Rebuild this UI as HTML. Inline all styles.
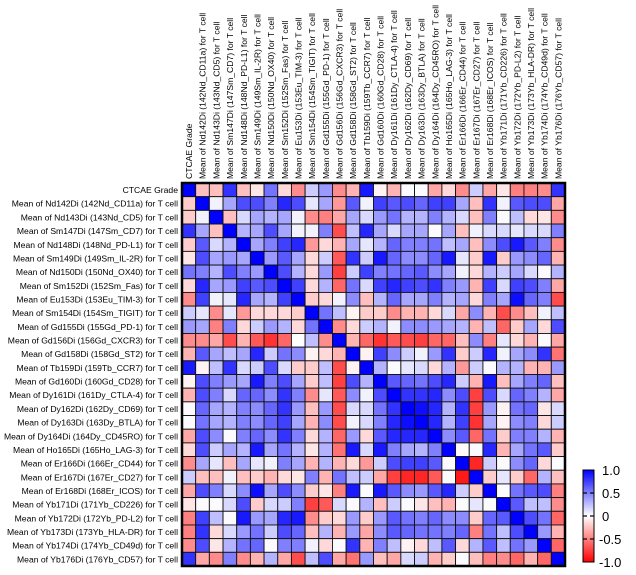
<!DOCTYPE html>
<html><head><meta charset="utf-8">
<style>
html,body{margin:0;padding:0;background:#fff;}
svg{display:block;font-family:"Liberation Sans",Arial,sans-serif;}
</style></head>
<body>
<svg id="chart" width="636" height="575" viewBox="0 0 636 575">
  <defs>
    <linearGradient id="cbgrad" x1="0" y1="0" x2="0" y2="1">
      <stop offset="0" stop-color="#0000ff"/>
      <stop offset="0.5" stop-color="#ffffff"/>
      <stop offset="1" stop-color="#ff0000"/>
    </linearGradient>
  </defs>
  <g id="cells"></g>
  <g id="rowlabels"></g>
  <g id="collabels"></g>
  <rect x="182" y="183" width="383" height="383" fill="none" stroke="#000" stroke-width="2.5"/>
  <g>
    <rect x="583" y="470" width="11" height="92" fill="url(#cbgrad)" stroke="#000" stroke-width="1"/>
    <g id="cbticks"></g>
  </g>
</svg>
<script>
const categories = ["CTCAE Grade","Mean of Nd142Di (142Nd_CD11a) for T cell","Mean of Nd143Di (143Nd_CD5) for T cell","Mean of Sm147Di (147Sm_CD7) for T cell","Mean of Nd148Di (148Nd_PD-L1) for T cell","Mean of Sm149Di (149Sm_IL-2R) for T cell","Mean of Nd150Di (150Nd_OX40) for T cell","Mean of Sm152Di (152Sm_Fas) for T cell","Mean of Eu153Di (153Eu_TIM-3) for T cell","Mean of Sm154Di (154Sm_TIGIT) for T cell","Mean of Gd155Di (155Gd_PD-1) for T cell","Mean of Gd156Di (156Gd_CXCR3) for T cell","Mean of Gd158Di (158Gd_ST2) for T cell","Mean of Tb159Di (159Tb_CCR7) for T cell","Mean of Gd160Di (160Gd_CD28) for T cell","Mean of Dy161Di (161Dy_CTLA-4) for T cell","Mean of Dy162Di (162Dy_CD69) for T cell","Mean of Dy163Di (163Dy_BTLA) for T cell","Mean of Dy164Di (164Dy_CD45RO) for T cell","Mean of Ho165Di (165Ho_LAG-3) for T cell","Mean of Er166Di (166Er_CD44) for T cell","Mean of Er167Di (167Er_CD27) for T cell","Mean of Er168Di (168Er_ICOS) for T cell","Mean of Yb171Di (171Yb_CD226) for T cell","Mean of Yb172Di (172Yb_PD-L2) for T cell","Mean of Yb173Di (173Yb_HLA-DR) for T cell","Mean of Yb174Di (174Yb_CD49d) for T cell","Mean of Yb176Di (176Yb_CD57) for T cell"];
const rowLabels = categories;
const colLabels = categories;
const r0 = [1,-0.25,-0.25,0.8,-0.25,-0.1,0.55,-0.15,-0.45,0.2,0.4,-0.45,-0.3,0.9,-0.05,-0.3,0.02,0.02,-0.35,-0.15,-0.45,0.2,-0.35,-0.1,-0.5,-0.5,-0.45,0.8];
const r1 = [-0.2,1,0.05,0.35,0.7,0.7,0.5,0.85,0.7,0.1,0.35,-0.4,0.65,0.05,0.75,0.65,0.7,0.6,0.75,0.75,0.35,-0.25,0.8,0.05,0.65,0.7,0.7,-0.35];
const r2 = [-0.2,0.05,1,-0.25,0.15,0.35,0.3,0.35,0.05,-0.45,-0.5,-0.35,0.35,0.15,0.4,0.55,0.3,0.3,0.5,0.3,0.15,-0.25,0.5,0.02,0.25,-0.15,-0.1,-0.45];
const r3 = [0.8,0.35,-0.25,1,0.3,0.35,0.7,0.35,0.05,0.05,0.5,-0.7,0.25,0.85,0.35,0.15,0.35,0.35,0.02,0.35,-0.25,0.05,0.15,0.15,0.1,0.15,0.15,0.5];
const r4 = [-0.2,0.65,0.15,0.3,1,0.35,0.5,0.75,0.85,-0.4,-0.15,-0.3,0.35,0.1,0.3,0.6,0.5,0.5,0.55,0.25,0.35,-0.25,0.45,0.7,0.9,0.65,0.5,-0.45];
const r5 = [-0.1,0.7,0.35,0.4,0.35,1,0.4,0.65,0.35,-0.15,0.2,-0.65,0.8,0.2,0.9,0.6,0.45,0.45,0.6,0.9,0.1,-0.2,0.9,-0.2,0.4,0.45,0.6,-0.3];
const r6 = [0.55,0.5,0.3,0.7,0.5,0.4,1,0.7,0.3,-0.15,0.4,-0.75,0.2,0.75,0.5,0.55,0.6,0.65,0.45,0.35,0.05,-0.15,0.3,0.2,0.35,0.15,0.02,0.3];
const r7 = [-0.15,0.85,0.35,0.4,0.75,0.65,0.7,1,0.75,-0.15,0.3,-0.6,0.55,0.15,0.75,0.85,0.75,0.7,0.8,0.5,0.4,-0.3,0.75,0.15,0.75,0.7,0.5,-0.35];
const r8 = [-0.45,0.75,0.05,0.1,0.85,0.35,0.3,0.75,1,-0.2,-0.15,0.05,0.45,-0.25,0.3,0.6,0.35,0.35,0.5,0.3,0.35,-0.15,0.5,0.35,0.95,0.6,0.5,-0.7];
const r9 = [0.2,0.1,-0.45,0.1,-0.4,-0.15,-0.15,-0.15,-0.2,1,0.55,0.25,-0.05,-0.2,-0.2,-0.45,-0.3,-0.3,-0.15,0.15,-0.35,0.45,-0.3,-0.7,-0.45,-0.25,0.05,0.25];
const r10 = [0.4,0.35,-0.5,0.5,-0.15,0.2,0.4,0.3,-0.15,0.55,1,-0.45,-0.15,0.2,0.3,0.05,0.45,0.45,0.4,0.35,0.3,-0.3,0.25,-0.6,-0.2,0.35,-0.15,0.7];
const r11 = [-0.45,-0.45,-0.35,-0.7,-0.3,-0.65,-0.8,-0.6,0.0,0.25,-0.45,1,-0.3,-0.6,-0.8,-0.65,-0.7,-0.75,-0.6,-0.6,-0.25,0.45,-0.5,0.1,-0.15,-0.3,0.02,-0.35];
const r12 = [-0.3,0.65,0.35,0.25,0.35,0.85,0.2,0.55,0.45,-0.05,-0.15,-0.3,1,-0.05,0.75,0.45,0.2,0.05,0.4,0.8,-0.2,0.2,0.85,0.05,0.35,0.45,0.8,-0.55];
const r13 = [0.9,-0.05,0.25,0.8,0.15,0.2,0.7,0.15,-0.2,-0.2,0.25,-0.7,-0.05,1,0.3,0.02,0.1,0.15,-0.15,0.3,-0.4,0.2,0.02,0.3,0.3,-0.3,-0.3,0.4];
const r14 = [-0.05,0.7,0.5,0.4,0.35,0.9,0.5,0.7,0.35,-0.2,0.25,-0.75,0.7,0.3,1,0.65,0.6,0.55,0.7,0.85,0.2,-0.3,0.9,-0.25,0.35,0.5,0.6,-0.25];
const r15 = [-0.3,0.7,0.5,0.15,0.6,0.6,0.45,0.8,0.5,-0.45,0.1,-0.65,0.45,0.05,0.7,1,0.8,0.8,0.85,0.45,0.7,-0.75,0.7,0.15,0.6,0.5,0.3,-0.35];
const r16 = [0.02,0.6,0.35,0.3,0.5,0.45,0.6,0.8,0.4,-0.25,0.4,-0.7,0.15,0.15,0.55,0.8,1,0.95,0.85,0.3,0.8,-0.75,0.4,-0.05,0.55,0.6,-0.1,0.15];
const r17 = [0.02,0.55,0.35,0.3,0.5,0.45,0.6,0.75,0.35,-0.3,0.45,-0.7,0.05,0.15,0.5,0.85,0.95,1,0.85,0.3,0.75,-0.8,0.35,-0.05,0.45,0.5,-0.15,0.2];
const r18 = [-0.35,0.7,0.45,0.02,0.5,0.6,0.45,0.8,0.5,-0.15,0.3,-0.6,0.4,-0.15,0.65,0.85,0.85,0.85,1,0.45,0.65,-0.6,0.55,-0.2,0.5,0.5,0.3,-0.3];
const r19 = [-0.15,0.7,0.2,0.35,0.3,0.9,0.35,0.55,0.3,-0.1,0.3,-0.55,0.9,0.15,0.9,0.5,0.35,0.3,0.5,1,-0.02,0.02,0.85,-0.3,0.35,0.55,0.65,-0.2];
const r20 = [-0.45,0.35,0.1,-0.25,0.35,0.1,0.05,0.5,0.35,-0.3,0.3,-0.3,-0.15,-0.4,0.2,0.7,0.75,0.75,0.65,0.02,1,-0.85,0.2,0.02,0.45,0.6,-0.15,0.02];
const r21 = [0.2,-0.25,-0.25,0.05,-0.25,-0.2,-0.3,-0.15,-0.1,0.5,-0.3,0.55,0.25,0.2,-0.35,-0.75,-0.85,-0.85,-0.65,0.02,-0.9,1,-0.2,0.1,-0.2,-0.6,0.3,-0.25];
const r22 = [-0.35,0.7,0.5,0.15,0.45,0.95,0.35,0.7,0.45,-0.2,-0.1,-0.5,0.9,0.02,0.9,0.65,0.45,0.4,0.65,0.85,0.2,-0.2,1,0.02,0.55,0.65,0.7,-0.5];
const r23 = [-0.1,0.02,0.02,0.15,0.7,-0.2,0.15,0.2,0.5,-0.75,-0.65,0.15,0.02,0.3,-0.25,0.2,0.02,-0.1,-0.25,-0.3,0.02,0.1,0.02,1,0.65,0.25,0.25,-0.45];
const r24 = [-0.5,0.75,0.25,0.02,0.9,0.4,0.35,0.85,0.9,-0.45,-0.2,-0.15,0.4,-0.2,0.4,0.65,0.55,0.5,0.6,0.45,0.45,-0.2,0.6,0.65,1,0.7,0.55,-0.6];
const r25 = [-0.5,0.8,-0.15,0.15,0.4,0.55,0.2,0.7,0.6,-0.25,0.3,-0.3,0.4,-0.35,0.45,0.65,0.6,0.55,0.55,0.5,0.6,-0.5,0.55,0.25,0.7,1,0.4,-0.3];
const r26 = [-0.45,0.7,-0.1,0.3,0.55,0.6,0.02,0.5,0.5,0.05,-0.15,0.02,0.8,-0.3,0.5,0.25,-0.05,-0.15,0.25,0.65,-0.15,0.3,0.65,0.25,0.55,0.4,1,-0.6];
const r27 = [0.8,-0.35,-0.45,0.5,-0.45,-0.3,0.3,-0.35,-0.7,0.25,0.7,-0.35,-0.55,0.4,-0.25,-0.35,0.15,0.2,-0.3,-0.2,0.02,-0.25,-0.5,-0.45,-0.6,-0.3,-0.6,1];
const matrixRows = [r0,r1,r2,r3,r4,r5,r6,r7,r8,r9,r10,r11,r12,r13,r14,r15,r16,r17,r18,r19,r20,r21,r22,r23,r24,r25,r26,r27];
const colorbarTicks = [1.0, 0.5, 0, -0.5, -1.0];
const colorbarTickLabels = ["1.0","0.5","0","-0.5","-1.0"];

const NS = "http://www.w3.org/2000/svg";
const X0 = 182, Y0 = 183, SIZE = 383;
const n = categories.length;
const cw = SIZE / n;
function xPos(i){ return X0 + i * cw; }
function yPos(i){ return Y0 + i * cw; }
function color(v){
  v = Math.max(-1, Math.min(1, v));
  let r,g,b;
  if (v >= 0){ r = Math.round(255*(1-v)); g = r; b = 255; }
  else { const t = -v; r = 255; g = Math.round(255*(1-t)); b = g; }
  return "rgb("+r+","+g+","+b+")";
}
const cellsG = document.getElementById("cells");
matrixRows.forEach((row, i) => {
  row.forEach((v, j) => {
    const rc = document.createElementNS(NS, "rect");
    rc.setAttribute("x", xPos(j));
    rc.setAttribute("y", yPos(i));
    rc.setAttribute("width", cw);
    rc.setAttribute("height", cw);
    rc.setAttribute("fill", color(v));
    rc.setAttribute("stroke", "#111");
    rc.setAttribute("stroke-width", "0.9");
    
    
    cellsG.appendChild(rc);
  });
});
const rowG = document.getElementById("rowlabels");
rowLabels.forEach((t, i) => {
  const tx = document.createElementNS(NS, "text");
  tx.setAttribute("x", 178);
  tx.setAttribute("y", yPos(i) + cw/2 + 3.2);
  tx.setAttribute("text-anchor", "end");
  tx.setAttribute("font-size", "8.6");
  tx.setAttribute("fill", "#000");
  tx.textContent = t;
  
  
  rowG.appendChild(tx);
});
const colG = document.getElementById("collabels");
colLabels.forEach((t, j) => {
  const tx = document.createElementNS(NS, "text");
  const cx = xPos(j) + cw/2 + 3.2;
  const cy = 179;
  tx.setAttribute("x", cx);
  tx.setAttribute("y", cy);
  tx.setAttribute("transform", "rotate(-90 " + cx + " " + cy + ")");
  tx.setAttribute("text-anchor", "start");
  tx.setAttribute("font-size", "8.6");
  tx.setAttribute("fill", "#000");
  tx.textContent = t;
  
  
  colG.appendChild(tx);
});
const cbG = document.getElementById("cbticks");
const CB_TOP = 470, CB_H = 92;
function cbY(v){ return CB_TOP + (1 - v) / 2 * CB_H; }
colorbarTicks.forEach((v, k) => {
  const y = cbY(v);
  if (v < 1 && v > -1){
    const l1 = document.createElementNS(NS, "line");
    l1.setAttribute("x1", 583); l1.setAttribute("x2", 587);
    l1.setAttribute("y1", y); l1.setAttribute("y2", y);
    l1.setAttribute("stroke", "#000"); l1.setAttribute("stroke-width", "1.2");
    
    
    cbG.appendChild(l1);
    const l2 = document.createElementNS(NS, "line");
    l2.setAttribute("x1", 590); l2.setAttribute("x2", 594);
    l2.setAttribute("y1", y); l2.setAttribute("y2", y);
    l2.setAttribute("stroke", "#000"); l2.setAttribute("stroke-width", "1.2");
    
    
    cbG.appendChild(l2);
  }
  const tx = document.createElementNS(NS, "text");
  tx.setAttribute("x", v < 0 ? 599 : 602);
  tx.setAttribute("y", y + 5);
  tx.setAttribute("font-size", "13");
  tx.setAttribute("fill", "#000");
  tx.textContent = colorbarTickLabels[k];
  
  
  cbG.appendChild(tx);
});
</script>
</body></html>
